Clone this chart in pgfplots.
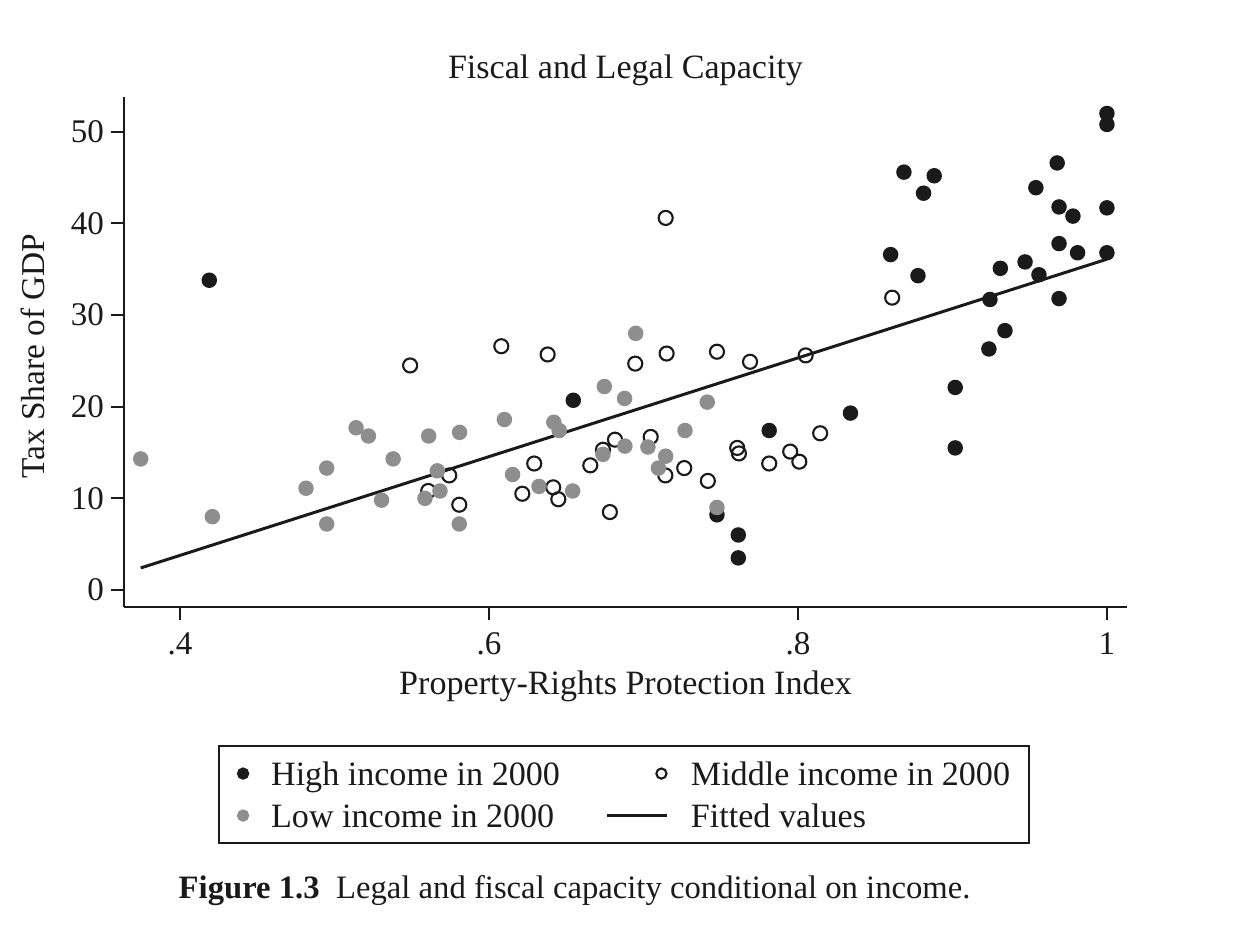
\documentclass[border=0pt]{standalone}
\usepackage{pgfplots}
\pgfplotsset{compat=1.18}
\usepackage{fontspec}
\setmainfont{Liberation Serif}
\definecolor{hi}{HTML}{1A1A1A}
\definecolor{lo}{HTML}{8E8E8E}
\definecolor{txt}{HTML}{1A1A1A}
\begin{document}
\begin{tikzpicture}
\path[use as bounding box] (0,0) rectangle (12.42cm,9.3cm);
\begin{axis}[
  at={(1.24cm,3.23cm)}, anchor=south west,
  scale only axis, width=10.03cm, height=5.10cm,
  xmin=0.3638, xmax=1.013, ymin=-1.86, ymax=53.8,
  axis lines=left,
  axis line style={line width=0.6pt, -, draw=txt},
  tick align=outside, major tick length=0.13cm,
  tick style={line width=0.6pt, draw=txt},
  xtick={0.4,0.6,0.8,1}, xticklabels={.4,.6,.8,1},
  ytick={0,10,20,30,40,50},
  /pgf/number format/assume math mode=true,
  ticklabel style={font=\fontsize{9.4}{11}\selectfont, text=txt},
  yticklabel style={inner xsep=1.8pt},
  every axis title shift=0pt,
  title={Fiscal and Legal Capacity},
  title style={at={(axis description cs:0.5,1.0353)}, anchor=base, font=\fontsize{9.7}{12}\selectfont, text=txt},
  xlabel={Property-Rights Protection Index},
  xlabel style={at={(axis description cs:0.5,-0.1706)}, anchor=base, font=\fontsize{9.7}{12}\selectfont, text=txt},
  ylabel={Tax Share of GDP},
  ylabel style={at={(axis description cs:-0.0788,0.492)}, anchor=base, font=\fontsize{9.5}{12}\selectfont, text=txt},
  legend columns=2,
  legend style={
    at={(axis description cs:0.0937,-0.2706)}, anchor=north west,
    draw=txt, line width=0.6pt,
    inner xsep=0pt, inner ysep=0.065cm,
    font=\fontsize{9.7}{12}\selectfont, text=txt,
    cells={anchor=west},
    nodes={inner xsep=0.19cm, inner ysep=0.05cm, text height=0.28cm, text depth=0.04cm},
    /tikz/every even column/.append style={column sep=0.27cm},
  },
]
% High income
\addplot[only marks, mark=*, mark size=2pt, draw=hi, fill=hi,
  legend image code/.code={\path (0cm,0cm) (0.31cm,0cm);\draw[mark size=1.45pt] plot coordinates {(0.23cm,0cm)};}]
coordinates {
(0.419,33.8) (0.6546,20.7) (0.7476,8.2) (0.7614,6.0) (0.7614,3.5)
(0.7814,17.4) (0.834,19.3) (0.86,36.6) (0.8686,45.6) (0.8777,34.3)
(0.8813,43.3) (0.8882,45.2) (0.9018,22.1) (0.9018,15.5) (0.9236,26.3)
(0.9243,31.7) (0.931,35.1) (0.934,28.3) (0.947,35.8) (0.954,43.9)
(0.956,34.4) (0.9678,46.6) (0.969,41.8) (0.969,37.8) (0.969,31.8)
(0.978,40.8) (0.981,36.8) (1.0,52.0) (1.0,50.8) (1.0,41.7) (1.0,36.8)
};
\addlegendentry{High income in 2000}
% Middle income
\addplot[only marks, mark=o, mark size=2.0pt, draw=hi, line width=0.6pt,
  legend image code/.code={\path (0cm,0cm) (0.63cm,0cm);\draw[mark size=1.45pt] plot coordinates {(0.54cm,0cm)};}]
coordinates {
(0.549,24.5) (0.5607,10.8) (0.5743,12.5) (0.5808,9.3) (0.608,26.6)
(0.6216,10.5) (0.6293,13.8) (0.638,25.7) (0.6416,11.2) (0.6449,9.9)
(0.6656,13.6) (0.6738,15.3) (0.6783,8.5) (0.6816,16.4) (0.6947,24.7)
(0.7047,16.7) (0.7142,12.5) (0.7144,40.6) (0.715,25.8) (0.7264,13.3)
(0.7417,11.9) (0.7476,26.0) (0.7607,15.5) (0.7618,14.9) (0.769,24.9)
(0.7814,13.8) (0.795,15.1) (0.8009,14.0) (0.805,25.6) (0.8144,17.1)
(0.861,31.9)
};
\addlegendentry{Middle income in 2000}
% Low income
\addplot[only marks, mark=*, mark size=2pt, draw=lo, fill=lo,
  legend image code/.code={\path (0cm,0cm) (0.31cm,0cm);\draw[mark size=1.45pt] plot coordinates {(0.23cm,0cm)};}]
coordinates {
(0.3746,14.3) (0.421,8.0) (0.4816,11.1) (0.495,13.3) (0.495,7.2)
(0.514,17.7) (0.522,16.8) (0.5305,9.8) (0.538,14.3) (0.5586,10.0)
(0.561,16.8) (0.5666,13.0) (0.5683,10.8) (0.581,17.2) (0.5808,7.2)
(0.610,18.6) (0.6153,12.6) (0.6324,11.3) (0.642,18.3) (0.6455,17.4)
(0.6542,10.8) (0.6738,14.8) (0.6747,22.2) (0.6878,20.9) (0.688,15.7)
(0.695,28.0) (0.7029,15.6) (0.7097,13.3) (0.7144,14.6) (0.7269,17.4)
(0.7413,20.5) (0.7476,9.0)
};
\addlegendentry{Low income in 2000}
% Fitted
\addplot[no marks, draw=hi, line width=0.85pt,
  legend image code/.code={\path (0cm,0cm) (0.63cm,0cm);\draw[line width=0.85pt] (0cm,0cm) -- (0.6cm,0cm);}]
coordinates {(0.3746,2.4) (1.0,36.1)};
\addlegendentry{Fitted values}
\end{axis}
\node[anchor=west, text=txt, font=\fontsize{9.3}{11}\selectfont, inner sep=0pt] at (1.78cm,0.39cm)
  {\textbf{Figure 1.3}\enspace Legal and fiscal capacity conditional on income.};
\end{tikzpicture}
\end{document}
